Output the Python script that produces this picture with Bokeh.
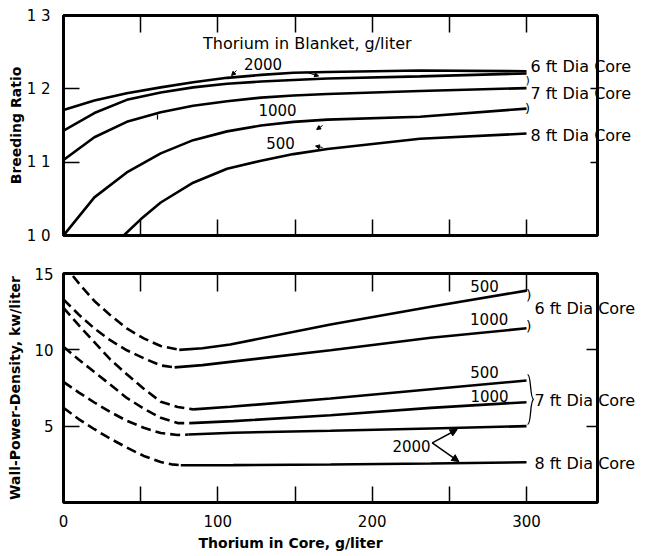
from bokeh.plotting import figure
from bokeh.models import Range1d, LinearAxis, FixedTicker, Label, Arrow, NormalHead, Title
from bokeh.layouts import column
from bokeh.embed import file_html
from bokeh.resources import INLINE

FONT = "DejaVu Sans"

# ---------------- top panel: breeding ratio ----------------
br_x = [0, 20, 41, 63, 84, 106, 128, 149, 171, 231, 300]
br_6ft_2000 = [1.171, 1.184, 1.194, 1.202, 1.209, 1.215, 1.219, 1.222, 1.223, 1.225, 1.224]
br_6ft_1000 = [1.143, 1.167, 1.185, 1.195, 1.202, 1.207, 1.210, 1.212, 1.214, 1.217, 1.221]
br_7ft = [1.103, 1.134, 1.155, 1.168, 1.177, 1.183, 1.188, 1.191, 1.193, 1.197, 1.201]
br_7ft_low = [1.000, 1.052, 1.086, 1.112, 1.130, 1.142, 1.150, 1.155, 1.158, 1.162, 1.173]
br_8ft_x = [39, 50, 63, 84, 106, 128, 149, 171, 231, 300]
br_8ft = [1.000, 1.022, 1.045, 1.072, 1.091, 1.102, 1.111, 1.118, 1.132, 1.139]

br_ticks = [1.0, 1.1, 1.2, 1.3]
br_tick_labels = ["1 0", "1 1", "1 2", "1 3"]
br_core_labels = ["6 ft Dia Core", "7 ft Dia Core", "8 ft Dia Core"]
br_core_label_y = [1.2309, 1.194, 1.1364]

# ---------------- bottom panel: wall power density ----------------
wpd_6ft_500_dash_x = [0, 10, 20, 30, 41, 52, 63, 75]
wpd_6ft_500_dash_y = [15.6, 14.35, 13.2, 12.3, 11.4, 10.75, 10.25, 10.0]
wpd_6ft_500_x = [75, 90, 108, 173, 238, 300]
wpd_6ft_500_y = [10.0, 10.1, 10.35, 11.66, 12.82, 13.88]

wpd_6ft_1000_dash_x = [0, 10, 20, 30, 41, 52, 63, 72]
wpd_6ft_1000_dash_y = [13.3, 12.3, 11.4, 10.65, 9.97, 9.45, 8.98, 8.85]
wpd_6ft_1000_x = [72, 90, 108, 173, 238, 300]
wpd_6ft_1000_y = [8.85, 9.0, 9.21, 9.97, 10.79, 11.41]

wpd_7ft_500_dash_x = [0, 10, 20, 30, 41, 52, 63, 74, 84]
wpd_7ft_500_dash_y = [12.75, 11.6, 10.5, 9.4, 8.4, 7.45, 6.6, 6.25, 6.1]
wpd_7ft_500_x = [84, 108, 173, 238, 300]
wpd_7ft_500_y = [6.1, 6.27, 6.81, 7.42, 7.99]

wpd_7ft_1000_dash_x = [0, 10, 20, 30, 41, 52, 63, 74, 82]
wpd_7ft_1000_dash_y = [10.2, 9.35, 8.55, 7.75, 6.85, 6.15, 5.55, 5.2, 5.2]
wpd_7ft_1000_x = [82, 110, 173, 238, 300]
wpd_7ft_1000_y = [5.2, 5.33, 5.72, 6.2, 6.57]

wpd_7ft_2000_dash_x = [0, 10, 20, 30, 41, 52, 63, 74, 81]
wpd_7ft_2000_dash_y = [7.9, 7.2, 6.55, 5.95, 5.35, 4.9, 4.55, 4.42, 4.45]
wpd_7ft_2000_x = [81, 110, 173, 238, 300]
wpd_7ft_2000_y = [4.45, 4.57, 4.7, 4.85, 5.0]

wpd_8ft_2000_dash_x = [0, 10, 20, 30, 41, 52, 63, 70, 76]
wpd_8ft_2000_dash_y = [6.2, 5.45, 4.8, 4.2, 3.6, 3.05, 2.65, 2.5, 2.44]
wpd_8ft_2000_x = [76, 110, 173, 238, 300]
wpd_8ft_2000_y = [2.44, 2.45, 2.49, 2.55, 2.64]

wpd_ticks = [5, 10, 15]
wpd_core_labels = ["6 ft Dia Core", "7 ft Dia Core", "8 ft Dia Core"]
wpd_core_label_y = [12.68, 6.68, 2.53]

x_major = [0, 100, 200, 300]
x_minor = [50, 150, 250]
x_all = [50, 100, 150, 200, 250, 300]

LW = 2.6


def base_axis(ax):
    ax.axis_line_color = None
    ax.major_tick_out = 0
    ax.minor_tick_out = 0
    ax.major_tick_line_width = 1.5
    ax.minor_tick_line_width = 1.5
    ax.major_tick_line_color = "black"
    ax.minor_tick_line_color = "black"
    ax.major_label_text_font = FONT
    ax.major_label_text_color = "black"
    ax.major_label_text_font_size = "15px"
    ax.axis_label_text_font = FONT
    ax.axis_label_text_font_size = "14px"
    ax.axis_label_text_font_style = "bold"
    ax.axis_label_text_color = "black"


def tick_only_axis(p, side, ticks, length):
    ax = LinearAxis(ticker=FixedTicker(ticks=[], minor_ticks=ticks))
    base_axis(ax)
    ax.minor_tick_in = length
    ax.major_label_standoff = 0
    p.add_layout(ax, side)
    return ax


def base_fig(height, yr, top, bottom):
    p = figure(width=647, height=height, x_range=Range1d(0, 346), y_range=yr,
               output_backend="svg", toolbar_location=None,
               min_border_left=63, min_border_right=50,
               min_border_top=top, min_border_bottom=bottom,
               outline_line_color="black", outline_line_width=3,
               background_fill_color="white", border_fill_color="white")
    p.xgrid.visible = False
    p.ygrid.visible = False
    return p


def text(p, x, y, t, size="15px", align="center"):
    p.add_layout(Label(x=x, y=y, text=t, text_font=FONT, text_font_size=size,
                       text_align=align, text_baseline="middle", text_color="black"))


def core_axis(p, ys, labels, minor, tick_len, standoff):
    ax = LinearAxis(ticker=FixedTicker(ticks=ys, minor_ticks=minor))
    base_axis(ax)
    ax.major_tick_in = 0
    ax.major_tick_line_color = None
    ax.minor_tick_in = tick_len
    ax.major_label_overrides = dict(zip(ys, labels))
    ax.major_label_standoff = standoff
    ax.major_label_text_font_size = "16px"
    p.add_layout(ax, "right")


# ================= TOP =================
p1 = base_fig(246, Range1d(1.0, 1.3), 15, 11)
ax = p1.xaxis[0]
ax.ticker = FixedTicker(ticks=[], minor_ticks=x_all)
base_axis(ax)
ax.minor_tick_in = 16
ax.major_label_standoff = 0
ay = p1.yaxis[0]
ay.ticker = FixedTicker(ticks=br_ticks)
base_axis(ay)
ay.major_tick_in = 16
ay.major_label_standoff = 13
ay.major_label_overrides = dict(zip(br_ticks, br_tick_labels))
ay.axis_label = "Breeding Ratio"
ay.axis_label_standoff = 0
tick_only_axis(p1, "above", x_all, 17)
core_axis(p1, br_core_label_y, br_core_labels, [1.1, 1.2], 7, -67)

for ys in (br_6ft_2000, br_6ft_1000, br_7ft, br_7ft_low):
    p1.line(br_x, ys, line_color="black", line_width=LW)
p1.line(br_8ft_x, br_8ft, line_color="black", line_width=LW)

text(p1, 158, 1.262, "Thorium in Blanket, g/liter", size="16px")
text(p1, 129.3, 1.2345, "2000")
text(p1, 138.7, 1.1705, "1000")
text(p1, 140.6, 1.1268, "500")
text(p1, 300.7, 1.2114, ")", size="11px")
text(p1, 300.7, 1.1732, ")", size="13px")

for xs, ys, xe, ye in [(112.1, 1.225, 108.9, 1.2182), (156.8, 1.223, 165.3, 1.2175),
                       (167.9, 1.15, 164.0, 1.1446), (167.9, 1.12, 163.3, 1.122)]:
    p1.add_layout(Arrow(x_start=xs, y_start=ys, x_end=xe, y_end=ye, line_width=1,
                        end=NormalHead(size=4, fill_color="black", line_color="black")))
p1.segment(x0=[60.9], y0=[1.165], x1=[60.9], y1=[1.1582], line_color="black", line_width=1.2)

# ================= BOTTOM =================
p2 = base_fig(310, Range1d(0, 15), 27, 54)
ax = p2.xaxis[0]
ax.ticker = FixedTicker(ticks=x_major, minor_ticks=x_minor)
base_axis(ax)
ax.major_tick_in = 16
ax.minor_tick_in = 16
ax.major_label_standoff = 12
ay = p2.yaxis[0]
ay.ticker = FixedTicker(ticks=wpd_ticks)
base_axis(ay)
ay.major_tick_in = 16
ay.major_label_standoff = 10
ay.axis_label = "Wall-Power-Density, kw/liter"
ay.axis_label_standoff = 8
tick_only_axis(p2, "above", x_all, 18)
core_axis(p2, wpd_core_label_y, wpd_core_labels, [5, 10], 11, -63)
p2.add_layout(Title(text="Thorium in Core, g/liter", align="left", offset=135,
                    text_font=FONT, text_font_size="14px", text_font_style="bold",
                    text_color="black", standoff=6), "below")

curves = [
    (wpd_6ft_500_dash_x, wpd_6ft_500_dash_y, wpd_6ft_500_x, wpd_6ft_500_y),
    (wpd_6ft_1000_dash_x, wpd_6ft_1000_dash_y, wpd_6ft_1000_x, wpd_6ft_1000_y),
    (wpd_7ft_500_dash_x, wpd_7ft_500_dash_y, wpd_7ft_500_x, wpd_7ft_500_y),
    (wpd_7ft_1000_dash_x, wpd_7ft_1000_dash_y, wpd_7ft_1000_x, wpd_7ft_1000_y),
    (wpd_7ft_2000_dash_x, wpd_7ft_2000_dash_y, wpd_7ft_2000_x, wpd_7ft_2000_y),
    (wpd_8ft_2000_dash_x, wpd_8ft_2000_dash_y, wpd_8ft_2000_x, wpd_8ft_2000_y),
]
for dx, dy, sx, sy in curves:
    p2.line(dx, dy, line_color="black", line_width=LW, line_dash="10 5")
    p2.line(sx, sy, line_color="black", line_width=LW)

text(p2, 272.8, 14.2, "500")
text(p2, 275.8, 12.02, "1000")
text(p2, 272.8, 8.55, "500")
text(p2, 276.0, 7.0, "1000")
text(p2, 225.5, 3.7, "2000")
for xe, ye in [(255.1, 4.78), (256.2, 2.68)]:
    p2.add_layout(Arrow(x_start=238.9, y_start=3.9, x_end=xe, y_end=ye, line_width=1.5,
                        end=NormalHead(size=7, fill_color="black", line_color="black")))
text(p2, 301.4, 13.62, ")", size="14px")
text(p2, 301.4, 11.59, ")", size="14px")
p2.bezier(x0=[300.7, 304.6], y0=[8.38, 6.75], x1=[304.6, 300.7], y1=[6.75, 5.11],
          cx0=[303.3, 302.0], cy0=[8.38, 6.68], cx1=[302.0, 303.3], cy1=[6.81, 5.11],
          line_color="black", line_width=1.3)

layout = column(p1, p2, spacing=0)
open("out.html", "w").write(file_html(layout, INLINE))
